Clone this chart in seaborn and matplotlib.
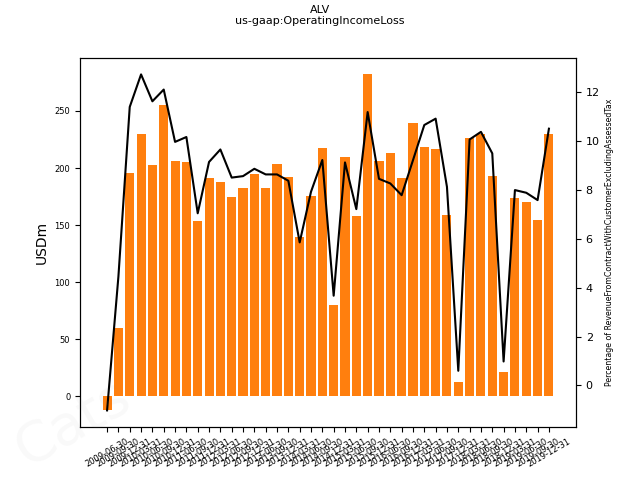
import matplotlib
matplotlib.use("Agg")
import matplotlib.pyplot as plt
import numpy as np
import pandas as pd
import seaborn as sns

# Quarter-end dates (tick labels)
dates = [
    "2009-06-30", "2009-09-30", "2009-12-31", "2010-03-31", "2010-06-30",
    "2010-09-30", "2010-12-31", "2011-06-30", "2011-09-30", "2011-12-31",
    "2012-03-31", "2012-06-30", "2012-09-30", "2012-12-31", "2013-06-30",
    "2013-09-30", "2013-12-31", "2014-03-31", "2014-06-30", "2014-09-30",
    "2014-12-31", "2015-03-31", "2015-06-30", "2015-09-30", "2015-12-31",
    "2016-06-30", "2016-09-30", "2016-12-31", "2017-03-31", "2017-06-30",
    "2017-09-30", "2017-12-31", "2018-03-31", "2018-06-30", "2018-09-30",
    "2018-12-31", "2019-03-31", "2019-06-30", "2019-09-30", "2019-12-31",
]

# Operating income (USDm)
operating_income = [
    -12.3, 60, 195.6, 229.8, 202.6, 255, 206, 205, 153.5, 191,
    187.7, 174.6, 182.5, 194.7, 182.5, 203.5, 192, 139.5, 175.4, 217.5,
    79.8, 209.6, 157.9, 282, 206, 213, 191, 239.5, 218.4, 216.7,
    158.8, 12.3, 226.3, 229.8, 193, 21, 173.7, 170, 154.4, 229.8,
]

# Operating income as percentage of revenue
pct_of_revenue = [
    -1.02, 4.45, 11.39, 12.72, 11.62, 12.1, 9.96, 10.16, 7.04, 9.14,
    9.65, 8.5, 8.56, 8.86, 8.63, 8.63, 8.37, 5.85, 7.92, 9.22,
    3.67, 9.12, 7.21, 11.18, 8.45, 8.26, 7.78, 9.21, 10.65, 10.91,
    8.12, 0.6, 10.06, 10.37, 9.49, 0.98, 7.99, 7.88, 7.58, 10.5,
]

df = pd.DataFrame({"date": dates, "value": operating_income, "pct": pct_of_revenue})

fig, ax = plt.subplots(figsize=(6.4, 4.8), dpi=100)

sns.barplot(data=df, x="date", y="value", color="#ff7f0e", saturation=1, ax=ax)
ax.set_xlabel("")
ax.set_ylabel("USDm", fontsize=10)
ax.tick_params(axis="y", labelsize=6)
ax.tick_params(axis="x", labelsize=6, labelrotation=30)

ax2 = ax.twinx()
sns.lineplot(x=np.arange(len(df)), y=df["pct"], color="black", linewidth=1.5, ax=ax2)
ax2.set_ylabel("Percentage of RevenueFromContractWithCustomerExcludingAssessedTax", fontsize=5.7)
ax2.tick_params(axis="y", labelsize=8)

fig.suptitle("ALV\nus-gaap:OperatingIncomeLoss", fontsize=8, y=0.99)

# faint watermark
fig.text(0.01, 0.03, "Cats", fontsize=40, color="gray", alpha=0.05, rotation=30)

plt.savefig("out.png", dpi=100)
plt.close()
